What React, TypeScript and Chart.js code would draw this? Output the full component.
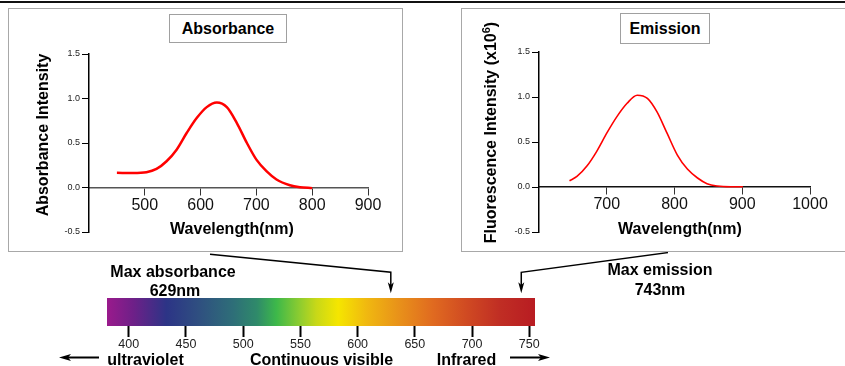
import React, { useEffect, useRef } from 'react';
import { Chart, registerables } from 'chart.js';

Chart.register(...registerables);

const FONT = "'Liberation Sans', Arial, Helvetica, sans-serif";

// ---------- Data ----------
// Absorbance spectrum (wavelength nm, intensity)
const absWavelength = [450, 479, 503, 521, 539, 557, 575, 593, 611, 629, 647, 665, 683, 700, 718, 736, 760, 778, 800];
const absIntensity = [0.165, 0.163, 0.172, 0.209, 0.295, 0.425, 0.612, 0.78, 0.903, 0.955, 0.903, 0.724, 0.5, 0.313, 0.183, 0.09, 0.026, 0.004, -0.007];

// Emission spectrum (wavelength nm, intensity x10^6)
const emWavelength = [645, 656, 671, 685, 700, 715, 730, 745, 760, 774, 789, 804, 819, 834, 848, 863, 883, 901];
const emIntensity = [0.07, 0.117, 0.236, 0.394, 0.598, 0.782, 0.93, 1.02, 0.985, 0.837, 0.598, 0.358, 0.199, 0.1, 0.037, 0.011, 0.003, 0.003];

// Axis ticks
const yTicks = [-0.5, 0, 0.5, 1.0, 1.5];
const absXTicks = [500, 600, 700, 800, 900];
const emXTicks = [700, 800, 900, 1000];

// Peaks
const absPeak = 629;
const emPeak = 743;

// Visible spectrum bar
const spectrumRange = [381, 755];
const spectrumTicks = [400, 450, 500, 550, 600, 650, 700, 750];
const spectrumStopNm = [381, 404, 433, 462, 491, 512, 529, 549, 564, 583, 608, 637, 666, 695, 724, 755];
const spectrumStopColor = ['#9a1a8c', '#6e2088', '#2c3486', '#2f5080', '#2e6e78', '#2f8a6a', '#3db84a', '#8ccc30', '#c8d818', '#f5e600', '#f0b810', '#e8901a', '#e06a20', '#d04a22', '#c02e24', '#b81c22'];

// ---------- helpers ----------
type Seg = { text: string; size: number; raise?: number };
type TitleItem = { segments: Seg[]; x: number; y: number; rotate?: number };

function makeTitlesPlugin(items: TitleItem[]) {
  return {
    id: 'axisTitles',
    afterDraw(chart: any) {
      const ctx = chart.ctx as CanvasRenderingContext2D;
      items.forEach((item) => {
        ctx.save();
        ctx.fillStyle = '#000';
        ctx.translate(item.x, item.y);
        if (item.rotate) ctx.rotate(item.rotate);
        let total = 0;
        const widths = item.segments.map((s) => {
          ctx.font = `bold ${s.size}px ${FONT}`;
          const w = ctx.measureText(s.text).width;
          total += w;
          return w;
        });
        let cx = -total / 2;
        ctx.textAlign = 'left';
        ctx.textBaseline = 'alphabetic';
        item.segments.forEach((s, i) => {
          ctx.font = `bold ${s.size}px ${FONT}`;
          ctx.fillText(s.text, cx, -(s.raise || 0));
          cx += widths[i];
        });
        ctx.restore();
      });
    },
  };
}

function arrowHead(ctx: CanvasRenderingContext2D, tipX: number, tipY: number, dx: number, dy: number, len: number, half: number) {
  const bx = tipX - dx * len;
  const by = tipY - dy * len;
  const px = -dy;
  const py = dx;
  ctx.beginPath();
  ctx.moveTo(tipX, tipY);
  ctx.lineTo(bx + px * half, by + py * half);
  ctx.lineTo(tipX - dx * len * 0.75, tipY - dy * len * 0.75);
  ctx.lineTo(bx - px * half, by - py * half);
  ctx.closePath();
  ctx.fill();
}

function spectrumChartConfig(): any {
  const [sMin, sMax] = spectrumRange;
  const annotate = {
    id: 'spectrumAnnotations',
    afterDraw(chart: any) {
      const ctx = chart.ctx as CanvasRenderingContext2D;
      const x = chart.scales.x;
      const ax = x.getPixelForValue(absPeak);
      const ex = x.getPixelForValue(emPeak);
      ctx.save();
      ctx.strokeStyle = '#000';
      ctx.fillStyle = '#000';
      ctx.lineWidth = 1.5;
      ctx.beginPath();
      ctx.moveTo(210, 2.3);
      ctx.lineTo(ax, 20.3);
      ctx.lineTo(ax, 34);
      ctx.stroke();
      arrowHead(ctx, ax, 41.3, 0, 1, 11, 3);
      ctx.beginPath();
      ctx.moveTo(668, 0.6);
      ctx.lineTo(ex, 20.3);
      ctx.lineTo(ex, 34);
      ctx.stroke();
      arrowHead(ctx, ex, 41.3, 0, 1, 11, 3);

      ctx.font = `bold 16px ${FONT}`;
      ctx.textAlign = 'center';
      ctx.textBaseline = 'alphabetic';
      ctx.fillText('Max absorbance', 173, 24.7);
      ctx.fillText(`${absPeak}nm`, 175, 44);
      ctx.fillText('Max emission', 660, 23);
      ctx.fillText(`${emPeak}nm`, 660, 43);
      ctx.fillText('ultraviolet', 145.5, 112.5);
      ctx.fillText('Continuous visible', 321.5, 112.5);
      ctx.fillText('Infrared', 466.5, 112.5);

      ctx.lineWidth = 2;
      ctx.beginPath();
      ctx.moveTo(99, 105.5);
      ctx.lineTo(66, 105.5);
      ctx.stroke();
      arrowHead(ctx, 59, 105.5, -1, 0, 12, 3.5);
      ctx.beginPath();
      ctx.moveTo(510, 105.5);
      ctx.lineTo(543, 105.5);
      ctx.stroke();
      arrowHead(ctx, 550, 105.5, 1, 0, 12, 3.5);
      ctx.restore();
    },
  };
  return {
    type: 'bar',
    data: {
      labels: ['visible'],
      datasets: [
        {
          data: [[sMin, sMax]],
          backgroundColor: (c: any) => {
            const chart = c.chart;
            if (!chart.chartArea) return spectrumStopColor[0];
            const xs = chart.scales.x;
            const g = chart.ctx.createLinearGradient(xs.getPixelForValue(sMin), 0, xs.getPixelForValue(sMax), 0);
            spectrumStopNm.forEach((w, i) => g.addColorStop((w - sMin) / (sMax - sMin), spectrumStopColor[i]));
            return g;
          },
          borderWidth: 0,
          barPercentage: 1,
          categoryPercentage: 1,
        },
      ],
    },
    options: {
      indexAxis: 'y',
      animation: false,
      responsive: false,
      layout: { padding: { left: 107, right: 310, top: 46, bottom: 0 } },
      scales: {
        x: {
          type: 'linear',
          min: sMin,
          max: sMax,
          position: 'bottom',
          afterFit: (s: any) => { s.height = 40; },
          afterBuildTicks: (s: any) => { s.ticks = spectrumTicks.map((v) => ({ value: v })); },
          ticks: { font: { size: 12.5, family: FONT }, color: '#222', padding: 0, maxRotation: 0, autoSkip: false, callback: (v: any) => String(v) },
          grid: { drawOnChartArea: false, drawTicks: true, tickLength: 11, tickWidth: 2, tickColor: '#000', color: '#000' },
          border: { display: false },
        },
        y: { display: false },
      },
      plugins: { legend: { display: false }, tooltip: { enabled: false } },
    },
    plugins: [annotate],
  };
}

function spectrumLineConfig(opts: {
  xs: number[]; ys: number[]; xMin: number; xMax: number; xTicks: number[];
  padLeft: number; yWidth: number; padTop: number; padRight: number; padBottom: number;
  lineWidth: number; xBorder: string; titles: TitleItem[];
}): any {
  return {
    type: 'line',
    data: {
      datasets: [
        {
          data: opts.xs.map((x, i) => ({ x, y: opts.ys[i] })),
          borderColor: '#ff0000',
          borderWidth: opts.lineWidth,
          pointRadius: 0,
          cubicInterpolationMode: 'monotone',
          fill: false,
        },
      ],
    },
    options: {
      animation: false,
      responsive: false,
      layout: { padding: { left: opts.padLeft, top: opts.padTop, right: opts.padRight, bottom: opts.padBottom } },
      scales: {
        x: {
          type: 'linear',
          min: opts.xMin,
          max: opts.xMax,
          position: { y: 0 },
          afterFit: (s: any) => { s.height = 0; },
          afterBuildTicks: (s: any) => { s.ticks = opts.xTicks.map((v) => ({ value: v })); },
          ticks: { font: { size: 16, family: FONT }, color: '#111', padding: 1, maxRotation: 0, autoSkip: false, callback: (v: any) => String(v) },
          grid: { drawOnChartArea: false, drawTicks: true, tickLength: 7, tickColor: '#333', color: '#333', tickWidth: 1 },
          border: { display: true, color: opts.xBorder, width: 1.5 },
        },
        y: {
          min: -0.5,
          max: 1.5,
          afterFit: (s: any) => { s.width = opts.yWidth; },
          afterBuildTicks: (s: any) => { s.ticks = yTicks.map((v) => ({ value: v })); },
          ticks: { font: { size: 9, family: FONT }, color: '#222', padding: 2, callback: (v: any) => Number(v).toFixed(1) },
          grid: { drawOnChartArea: false, drawTicks: true, tickLength: 7, tickColor: '#000', color: '#000', tickWidth: 1 },
          border: { display: true, color: '#000', width: 1.5 },
        },
      },
      plugins: { legend: { display: false }, tooltip: { enabled: false } },
    },
    plugins: [makeTitlesPlugin(opts.titles)],
  };
}

export default function App() {
  const absRef = useRef<HTMLCanvasElement | null>(null);
  const emRef = useRef<HTMLCanvasElement | null>(null);
  const barRef = useRef<HTMLCanvasElement | null>(null);

  useEffect(() => {
    Chart.defaults.font.family = FONT;
    const charts: Chart[] = [];
    if (absRef.current) {
      charts.push(
        new Chart(absRef.current, spectrumLineConfig({
          xs: absWavelength, ys: absIntensity, xMin: 400, xMax: 900, xTicks: absXTicks,
          padLeft: 20, yWidth: 60, padTop: 45, padRight: 33, padBottom: 19, lineWidth: 2.5, xBorder: '#555',
          titles: [
            { segments: [{ text: 'Absorbance Intensity', size: 16 }], x: 38.5, y: 126, rotate: -Math.PI / 2 },
            { segments: [{ text: 'Wavelength(nm)', size: 16 }], x: 223, y: 225 },
          ],
        }))
      );
    }
    if (emRef.current) {
      charts.push(
        new Chart(emRef.current, spectrumLineConfig({
          xs: emWavelength, ys: emIntensity, xMin: 600, xMax: 1000, xTicks: emXTicks,
          padLeft: 20, yWidth: 57, padTop: 43, padRight: 35, padBottom: 19, lineWidth: 1.6, xBorder: '#111',
          titles: [
            {
              segments: [
                { text: 'Fluorescence Intensity (x10', size: 16 },
                { text: '6', size: 11, raise: 6 },
                { text: ')', size: 16 },
              ],
              x: 33.5, y: 123.5, rotate: -Math.PI / 2,
            },
            { segments: [{ text: 'Wavelength(nm)', size: 16 }], x: 218, y: 225 },
          ],
        }))
      );
    }
    if (barRef.current) {
      charts.push(new Chart(barRef.current, spectrumChartConfig()));
    }
    return () => charts.forEach((c) => c.destroy());
  }, []);

  const boxTitle: React.CSSProperties = {
    position: 'absolute',
    boxSizing: 'border-box',
    border: '1px solid #a0a0a0',
    background: '#fff',
    font: `bold 16px ${FONT}`,
    color: '#000',
    textAlign: 'center',
  };

  return (
    <div style={{ position: 'absolute', left: 0, top: 0, width: 845, height: 366, overflow: 'hidden', background: '#fff', fontFamily: FONT }}>
      <div style={{ position: 'absolute', left: 0, top: 1, width: 845, height: 2, background: '#111' }} />
      <div style={{ position: 'absolute', left: 8, top: 8, width: 395, height: 244, boxSizing: 'border-box', border: '1px solid #a8a8a8' }} />
      <div style={{ position: 'absolute', left: 461, top: 8, width: 420, height: 244, boxSizing: 'border-box', border: '1px solid #a8a8a8' }} />
      <canvas ref={absRef} width={392} height={242} style={{ position: 'absolute', left: 9, top: 9 }} />
      <canvas ref={emRef} width={383} height={242} style={{ position: 'absolute', left: 462, top: 9 }} />
      <canvas ref={barRef} width={845} height={114} style={{ position: 'absolute', left: 0, top: 252 }} />
      <div style={{ ...boxTitle, left: 169, top: 14, width: 118, height: 29, lineHeight: '27px' }}>Absorbance</div>
      <div style={{ ...boxTitle, left: 620, top: 13, width: 90, height: 31, lineHeight: '29px' }}>Emission</div>
    </div>
  );
}
